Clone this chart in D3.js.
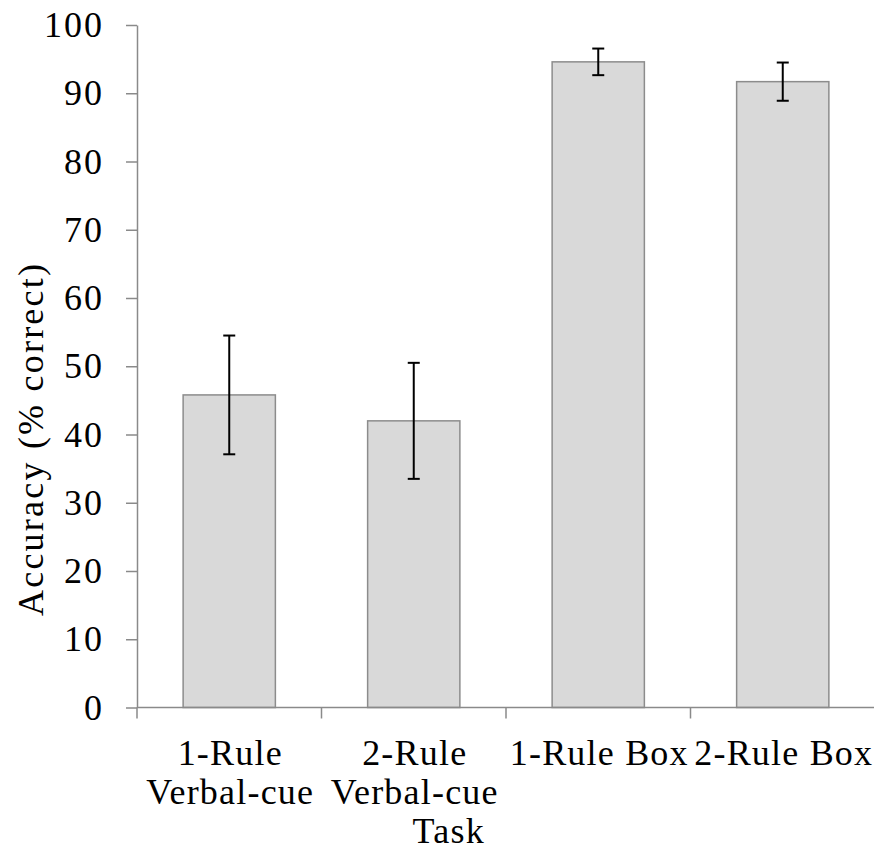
<!DOCTYPE html>
<html>
<head>
<meta charset="utf-8">
<script src="https://cdn.jsdelivr.net/npm/d3@7"></script>
<style>
  body { margin: 0; background: #fff; }
  text { font-family: "Liberation Serif", "Times New Roman", serif; fill: #000; }
</style>
</head>
<body>
<svg id="chart" width="874" height="852"></svg>
<script>
const categories = ["1-Rule Verbal-cue", "2-Rule Verbal-cue Task", "1-Rule Box", "2-Rule Box"];
const labelLines = [["1-Rule", "Verbal-cue"], ["2-Rule", "Verbal-cue", "Task"], ["1-Rule Box"], ["2-Rule Box"]];
const means = [45.8, 42.0, 94.6, 91.7];
const errors = [8.7, 8.5, 1.95, 2.8];
const yTicks = [0, 10, 20, 30, 40, 50, 60, 70, 80, 90, 100];

const svg = d3.select("#chart");
const plotLeft = 137, plotRight = 875, plotTop = 25, plotBottom = 707.5;
const axisColour = "#8a8a8a";

const x = d3.scaleBand().domain(categories).range([plotLeft, plotRight]).paddingInner(0.5).paddingOuter(0.25);
const y = d3.scaleLinear().domain([0, 100]).range([plotBottom, plotTop]);

// y axis
const yAxis = svg.append("g")
  .attr("transform", `translate(${plotLeft},0)`)
  .call(d3.axisLeft(y).tickValues(yTicks).tickSize(11).tickSizeOuter(0).tickPadding(24));
yAxis.select(".domain").attr("stroke", axisColour).attr("stroke-width", 1.5);
yAxis.selectAll(".tick line").attr("stroke", axisColour).attr("stroke-width", 1.5);
yAxis.selectAll(".tick text")
  .attr("font-size", 36)
  .attr("font-family", "Liberation Serif")
  .attr("letter-spacing", 2)
  .attr("dx", 2)
  .attr("fill", "#000");

// bars
svg.append("g").selectAll("rect")
  .data(categories)
  .enter()
  .append("rect")
  .attr("x", d => x(d))
  .attr("y", (d, i) => y(means[i]))
  .attr("width", x.bandwidth())
  .attr("height", (d, i) => plotBottom - y(means[i]))
  .attr("fill", "#d9d9d9")
  .attr("stroke", "#8c8c8c")
  .attr("stroke-width", 1.5);

// x axis line and ticks at band boundaries
svg.append("line")
  .attr("x1", plotLeft).attr("x2", plotRight)
  .attr("y1", plotBottom).attr("y2", plotBottom)
  .attr("stroke", axisColour).attr("stroke-width", 1.5);
svg.append("g").selectAll("line")
  .data(d3.range(categories.length + 1))
  .enter()
  .append("line")
  .attr("x1", i => plotLeft + i * x.step())
  .attr("x2", i => plotLeft + i * x.step())
  .attr("y1", plotBottom).attr("y2", plotBottom + 11)
  .attr("stroke", axisColour).attr("stroke-width", 1.5);

// error bars
const eb = svg.append("g").attr("stroke", "#000").attr("stroke-width", 2);
categories.forEach((c, i) => {
  const cx = x(c) + x.bandwidth() / 2;
  const hi = y(means[i] + errors[i]), lo = y(means[i] - errors[i]);
  eb.append("line").attr("x1", cx).attr("x2", cx).attr("y1", hi).attr("y2", lo);
  eb.append("line").attr("x1", cx - 6).attr("x2", cx + 6).attr("y1", hi).attr("y2", hi);
  eb.append("line").attr("x1", cx - 6).attr("x2", cx + 6).attr("y1", lo).attr("y2", lo);
});

// x labels
categories.forEach((c, i) => {
  const cx = x(c) + x.bandwidth() / 2;
  const t = svg.append("text").attr("text-anchor", "middle").attr("font-size", 36).attr("letter-spacing", 1.2);
  labelLines[i].forEach((line, j) => {
    t.append("tspan")
      .attr("x", cx + 1 + (j === 2 ? 34 : 0))
      .attr("y", 765 + j * 39)
      .text(line);
  });
});

// y label
svg.append("text")
  .attr("transform", "translate(43,440) rotate(-90)")
  .attr("text-anchor", "middle")
  .attr("font-size", 36)
  .attr("textLength", 352)
  .attr("lengthAdjust", "spacing")
  .text("Accuracy (% correct)");
</script>
</body>
</html>
